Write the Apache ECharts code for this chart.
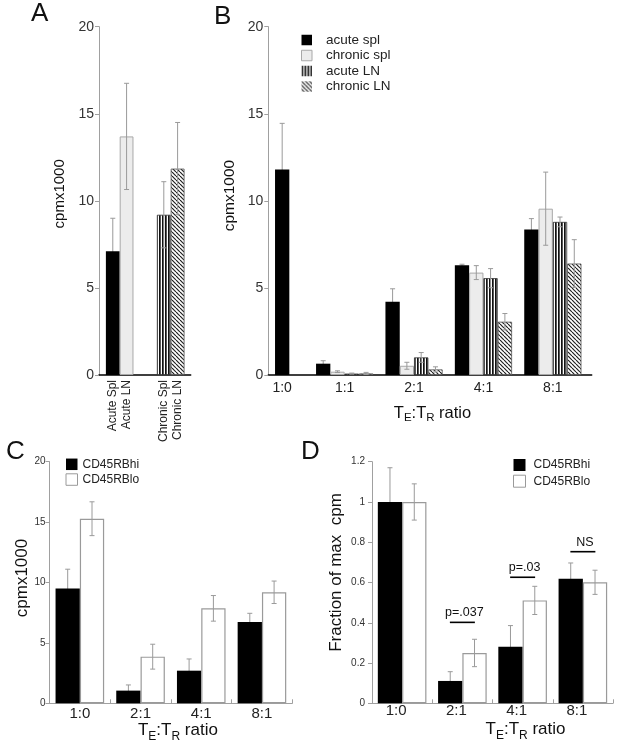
<!DOCTYPE html>
<html><head><meta charset="utf-8">
<script src="https://cdn.jsdelivr.net/npm/echarts@6/dist/echarts.min.js"></script>
<style>html,body{margin:0;padding:0;background:#fff}#chart{width:621px;height:748px}</style>
</head><body><div id="chart"></div>
<script>
// ---------- DATA ----------
// Panel A
const aLabels = ['Acute Spl', 'Acute LN', 'Chronic Spl', 'Chronic LN'];
const aValues = [7.1, 13.7, 9.2, 11.85];
const aErrors = [1.9, 3.05, 1.9, 2.65];

// Panel B
const bCategories = ['1:0', '1:1', '2:1', '4:1', '8:1'];
const bSeriesNames = ['acute spl', 'chronic spl', 'acute LN', 'chronic LN'];
const bAcuteSpl = [11.8, 0.65, 4.2, 6.3, 8.35];
const bAcuteSplErr = [2.65, 0.17, 0.75, 0.06, 0.63];
const bChronicSpl = [null, 0.19, 0.53, 5.88, 9.55];
const bChronicSplErr = [null, 0.05, 0.2, 0.4, 2.1];
const bAcuteLN = [null, 0.08, 1.01, 5.56, 8.79];
const bAcuteLNErr = [null, 0.03, 0.28, 0.55, 0.28];
const bChronicLN = [null, 0.09, 0.32, 3.06, 6.4];
const bChronicLNErr = [null, 0.06, 0.15, 0.47, 1.37];

// Panels C and D
const cdCategories = ['1:0', '2:1', '4:1', '8:1'];
const cdSeriesNames = ['CD45RBhi', 'CD45RBlo'];
const cHi = [9.5, 1.05, 2.7, 6.73];
const cHiErr = [1.6, 0.47, 0.97, 0.72];
const cLo = [15.28, 3.86, 7.86, 9.19];
const cLoErr = [1.4, 1.03, 1.06, 0.93];
const dHi = [1.0, 0.111, 0.281, 0.619];
const dHiErr = [0.17, 0.046, 0.105, 0.078];
const dLo = [1.0, 0.25, 0.511, 0.601];
const dLoErr = [0.09, 0.068, 0.07, 0.06];
const dSigLabels = ['p=.037', 'p=.03', 'NS'];
const dSigCategories = ['2:1', '4:1', '8:1'];
const dSigHeights = [0.402, 0.626, 0.753];

// ---------- STYLE / LAYOUT ----------
const FONT = '"Liberation Sans", Arial, Helvetica, sans-serif';
const AXIS_GRAY = '#a0a0a0';
const ERR_GRAY = '#9a9a9a';

function stripePattern() {
  const c = document.createElement('canvas'); c.width = 3; c.height = 3;
  const g = c.getContext('2d');
  g.fillStyle = '#fff'; g.fillRect(0, 0, 3, 3);
  g.fillStyle = '#111'; g.fillRect(0, 0, 1.7, 3);
  return { image: c, repeat: 'repeat' };
}
function hatchPattern() {
  const n = 4;
  const c = document.createElement('canvas'); c.width = n; c.height = n;
  const g = c.getContext('2d');
  g.fillStyle = '#fff'; g.fillRect(0, 0, n, n);
  g.strokeStyle = '#222'; g.lineWidth = 1.2;
  [-1, 0, 1].forEach(k => { g.beginPath(); g.moveTo(k * n, 0); g.lineTo(k * n + n, n); g.stroke(); });
  return { image: c, repeat: 'repeat' };
}
const STYLE_BLACK = { color: '#000', borderWidth: 0 };
const STYLE_GRAY = { color: '#ececec', borderColor: '#a8a8a8', borderWidth: 1 };
const STYLE_STRIPE = { color: stripePattern(), borderColor: '#333', borderWidth: 0.8 };
const STYLE_HATCH = { color: hatchPattern(), borderColor: '#555', borderWidth: 0.8 };
const STYLE_WHITE = { color: '#fff', borderColor: '#9a9a9a', borderWidth: 1.2 };

const aStyles = [STYLE_BLACK, STYLE_GRAY, STYLE_STRIPE, STYLE_HATCH];
const bStyles = [STYLE_BLACK, STYLE_GRAY, STYLE_STRIPE, STYLE_HATCH];

// layout of slots on the value-type x axes of panels A and B
const aGroupCenters = [1.5, 5.2];
const aXPos = aLabels.map((_, i) => aGroupCenters[Math.floor(i / 2)] + (i % 2 - 0.5));
const bGroupCenters = [0.1, 1, 2, 3, 4];
const bSlot = 0.206;
const bValues = [bAcuteSpl, bChronicSpl, bAcuteLN, bChronicLN];
const bErrs = [bAcuteSplErr, bChronicSplErr, bAcuteLNErr, bChronicLNErr];
function bX(s, i) {
  const present = bValues.map((arr, k) => (arr[i] != null ? k : -1)).filter(k => k >= 0);
  const rank = present.indexOf(s);
  return bGroupCenters[i] + (rank - (present.length - 1) / 2) * bSlot;
}
function labelAt(positions, labels) {
  return v => { const i = positions.findIndex(p => Math.abs(p - v) < 1e-6); return i >= 0 ? labels[i] : ''; };
}

function errSeries(name, xIdx, points, z, offsetPx) {
  return {
    type: 'custom', name, xAxisIndex: xIdx, yAxisIndex: xIdx, z, silent: true,
    data: points, encode: { x: 0, y: [1, 2] },
    renderItem(params, api) {
      const x = api.value(0);
      const lo = api.coord([x, api.value(1)]);
      const hi = api.coord([x, api.value(2)]);
      const px = lo[0] + offsetPx, cap = 2.5;
      const st = { stroke: ERR_GRAY, lineWidth: 1 };
      return { type: 'group', children: [
        { type: 'line', shape: { x1: px, y1: lo[1], x2: px, y2: hi[1] }, style: st },
        { type: 'line', shape: { x1: px - cap, y1: hi[1], x2: px + cap, y2: hi[1] }, style: st },
        { type: 'line', shape: { x1: px - cap, y1: lo[1], x2: px + cap, y2: lo[1] }, style: st }
      ] };
    }
  };
}

function yAxisCfg(gridIndex, max, interval, name, o) {
  return {
    type: 'value', gridIndex, min: 0, max, interval,
    name, nameLocation: 'middle', nameGap: o.nameGap, nameRotate: 90, nameMoveOverlap: false,
    nameTextStyle: { fontSize: o.nameSize, fontFamily: FONT, color: '#111', padding: [0, 0, 0, o.shiftUp * 2] },
    axisLine: { show: true, onZero: false, lineStyle: { color: AXIS_GRAY, width: 1 } },
    axisTick: { show: true, inside: false, length: 4, lineStyle: { color: AXIS_GRAY } },
    axisLabel: { fontSize: o.labelSize, fontFamily: FONT, color: '#333', margin: o.labelMargin },
    splitLine: { show: false }
  };
}
function ratioName(mainSize, subSize, drop, gap, shift) {
  return {
    name: '{m|T}{s|E}{m|:T}{s|R}{m| ratio}', nameLocation: 'middle', nameGap: gap, nameMoveOverlap: false,
    nameTextStyle: {
      padding: [0, 0, 0, shift * 2],
      rich: {
        m: { fontSize: mainSize, fontFamily: FONT, color: '#111' },
        s: { fontSize: subSize, fontFamily: FONT, color: '#111', padding: [drop, 0, 0, 0] }
      }
    }
  };
}

// ---------- SERIES ----------
const series = [];
// Panel A
series.push({
  type: 'bar', name: 'panelA', xAxisIndex: 0, yAxisIndex: 0, z: 2, barWidth: 13.8, barGap: '-100%',
  data: aValues.map((v, i) => ({ value: [aXPos[i], v], itemStyle: aStyles[i] }))
});
series.push(errSeries('panelA-err-under', 0,
  aValues.map((v, i) => [aXPos[i], v - aErrors[i], v + aErrors[i]]).filter((_, i) => aStyles[i] === STYLE_BLACK), 1, 0));
series.push(errSeries('panelA-err-over', 0,
  aValues.map((v, i) => [aXPos[i], v - aErrors[i], v + aErrors[i]]).filter((_, i) => aStyles[i] !== STYLE_BLACK), 3, 0));
// Panel B
bSeriesNames.forEach((name, s) => {
  series.push({
    type: 'bar', name, xAxisIndex: 1, yAxisIndex: 1, z: 2, barWidth: 14.3, barGap: '-100%',
    itemStyle: bStyles[s],
    data: bValues[s].map((v, i) => (v == null ? null : [bX(s, i), v])).filter(Boolean)
  });
  series.push(errSeries(name + '-err', 1,
    bValues[s].map((v, i) => (v == null ? null : [bX(s, i), v - bErrs[s][i], v + bErrs[s][i]])).filter(Boolean),
    s === 0 ? 1 : 3, 0));
});
// Panels C and D
const cdData = [[cHi, cHiErr, cLo, cLoErr], [dHi, dHiErr, dLo, dLoErr]];
const cdStyles = [STYLE_BLACK, STYLE_WHITE];
cdData.forEach((set, p) => {
  const axis = 2 + p;
  [[set[0], set[1]], [set[2], set[3]]].forEach(([vals, errs], s) => {
    series.push({
      type: 'bar', name: cdSeriesNames[s], xAxisIndex: axis, yAxisIndex: axis, z: 2,
      barWidth: 24.3, barGap: 0, itemStyle: cdStyles[s], data: vals
    });
    series.push(errSeries(cdSeriesNames[s] + '-err-' + axis, axis,
      vals.map((v, i) => [i, v - errs[i], v + errs[i]]), s === 0 ? 1 : 3, (s - 0.5) * 24.3));
  });
});
// significance marks in D
series.push({
  type: 'custom', name: 'significance', xAxisIndex: 3, yAxisIndex: 3, z: 4, silent: true,
  data: dSigLabels.map((t, i) => [cdCategories.indexOf(dSigCategories[i]), dSigHeights[i]]),
  encode: { x: 0, y: 1 },
  renderItem(params, api) {
    const p = api.coord([api.value(0), api.value(1)]);
    const half = 12.5;
    return { type: 'group', children: [
      { type: 'line', shape: { x1: p[0] - half, y1: p[1], x2: p[0] + half, y2: p[1] }, style: { stroke: '#000', lineWidth: 1.6 } },
      { type: 'text', x: p[0] + 2, y: p[1] - 3,
        style: { text: dSigLabels[params.dataIndex], align: 'center', verticalAlign: 'bottom', fill: '#111', fontSize: 12.5, fontFamily: FONT } }
    ] };
  }
});

const letterStyle = { fontSize: 26, fontWeight: 'normal', fontFamily: FONT, color: '#111' };

const option = {
  animation: false,
  backgroundColor: '#fff',
  title: [
    { text: 'A', left: 31, top: 1, padding: 0, textStyle: letterStyle },
    { text: 'B', left: 214, top: 4, padding: 0, textStyle: letterStyle },
    { text: 'C', left: 6, top: 439, padding: 0, textStyle: letterStyle },
    { text: 'D', left: 301, top: 439, padding: 0, textStyle: letterStyle }
  ],
  grid: [
    { left: 99, top: 26.7, width: 91.7, height: 348.3, outerBoundsMode: 'none' },
    { left: 268.3, top: 26.7, width: 323.4, height: 348.3, outerBoundsMode: 'none' },
    { left: 49.5, top: 461.7, width: 242.8, height: 241.6, outerBoundsMode: 'none' },
    { left: 372, top: 461.7, width: 241, height: 241.6, outerBoundsMode: 'none' }
  ],
  legend: [
    { left: 301, top: 33, orient: 'vertical', padding: 0, itemWidth: 10.5, itemHeight: 10.5, itemGap: 1.5,
      icon: 'rect', selectedMode: false,
      textStyle: { fontSize: 13.5, fontFamily: FONT, color: '#222', lineHeight: 11, padding: [0, 0, 0, 9] },
      data: bSeriesNames.map((n, s) => ({ name: n, itemStyle: { borderWidth: s === 1 ? 1 : 0, borderColor: '#a8a8a8' } })) },
    { left: 65.5, top: 458.3, orient: 'vertical', padding: 0, itemWidth: 11.5, itemHeight: 11.5, itemGap: 3,
      icon: 'rect', selectedMode: false,
      textStyle: { fontSize: 12, fontFamily: FONT, color: '#222', lineHeight: 12 },
      data: cdSeriesNames.map((n, s) => ({ name: n, itemStyle: { borderWidth: s === 1 ? 1 : 0, borderColor: '#9a9a9a' } })) },
    { left: 513, top: 459, orient: 'vertical', padding: 0, itemWidth: 12, itemHeight: 12, itemGap: 3.7,
      icon: 'rect', selectedMode: false,
      textStyle: { fontSize: 12, fontFamily: FONT, color: '#222', lineHeight: 12, padding: [0, 0, 0, 3] },
      data: cdSeriesNames.map((n, s) => ({ name: n, itemStyle: { borderWidth: s === 1 ? 1 : 0, borderColor: '#9a9a9a' } })) }
  ],
  xAxis: [
    { type: 'value', gridIndex: 0, min: 0, max: 6.65,
      axisLine: { show: true, onZero: false, lineStyle: { color: '#000', width: 1.5 } },
      axisTick: { show: false }, splitLine: { show: false },
      axisLabel: { customValues: aXPos, formatter: labelAt(aXPos, aLabels), rotate: 90, margin: 5,
        fontSize: 12, fontFamily: FONT, color: '#222' } },
    Object.assign({ type: 'value', gridIndex: 1, min: -0.1, max: 4.56,
      axisLine: { show: true, onZero: false, lineStyle: { color: '#000', width: 1.5 } },
      axisTick: { show: false }, splitLine: { show: false },
      axisLabel: { customValues: bGroupCenters, formatter: labelAt(bGroupCenters, bCategories), margin: 6,
        fontSize: 14, fontFamily: FONT, color: '#222' } }, ratioName(16.5, 11.5, 10, 27, 2.5)),
    Object.assign({ type: 'category', gridIndex: 2, data: cdCategories,
      axisLine: { show: true, onZero: false, lineStyle: { color: AXIS_GRAY, width: 1 } },
      axisTick: { show: true, inside: true, length: 4, lineStyle: { color: AXIS_GRAY } },
      axisLabel: { margin: 3, fontSize: 15, fontFamily: FONT, color: '#222' } }, ratioName(17, 12, 11, 16, 7)),
    Object.assign({ type: 'category', gridIndex: 3, data: cdCategories,
      axisLine: { show: true, onZero: false, lineStyle: { color: AXIS_GRAY, width: 1 } },
      axisTick: { show: true, inside: true, length: 4, lineStyle: { color: AXIS_GRAY } },
      axisLabel: { margin: 0, fontSize: 15, fontFamily: FONT, color: '#222', padding: [0, 12, 0, 0] } }, ratioName(17, 12, 11, 15, 33))
  ],
  yAxis: [
    yAxisCfg(0, 20, 5, 'cpmx1000', { nameGap: 31.5, nameSize: 15, shiftUp: 7, labelSize: 14, labelMargin: 5 }),
    yAxisCfg(1, 20, 5, 'cpmx1000', { nameGap: 30.3, nameSize: 15.5, shiftUp: 5.3, labelSize: 14, labelMargin: 5 }),
    yAxisCfg(2, 20, 5, 'cpmx1000', { nameGap: 18.8, nameSize: 17, shiftUp: 4.5, labelSize: 10, labelMargin: 4 }),
    yAxisCfg(3, 1.2, 0.2, 'Fraction of max  cpm', { nameGap: 26.8, nameSize: 17, shiftUp: 10, labelSize: 10, labelMargin: 7 })
  ],
  series
};

const chart = echarts.init(document.getElementById('chart'));
chart.setOption(option);
</script>
</body></html>
